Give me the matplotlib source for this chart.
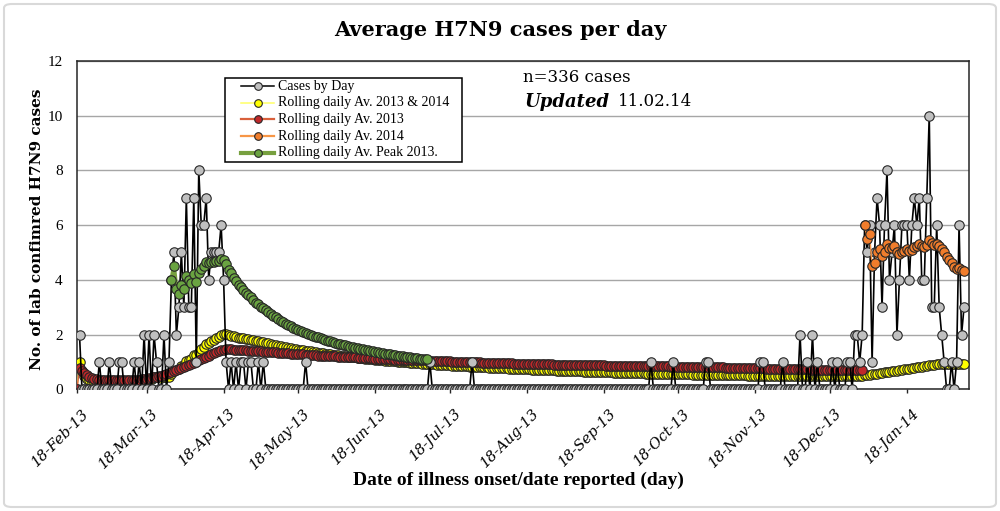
import numpy as np
import pandas as pd
import matplotlib
matplotlib.use("Agg")
import matplotlib.pyplot as plt
import matplotlib.dates as mdates
import matplotlib.transforms as mtransforms
from matplotlib.lines import Line2D
from matplotlib.patches import Rectangle, FancyBboxPatch

# Tage ab 18-Feb-13 bis 10-Feb-14
days = pd.date_range("2013-02-18", "2014-02-10", freq="D")

# Fälle pro Tag (aus dem Bild gelesen), 10 Tage pro Zeile
cases_by_day = [
    0, 2, 0, 0, 0, 0, 0, 0, 0, 1,
    0, 0, 0, 1, 0, 0, 0, 1, 1, 0,
    0, 0, 0, 1, 0, 1, 0, 2, 0, 2,
    0, 2, 1, 0, 0, 2, 0, 1, 4, 5,
    2, 3, 5, 3, 7, 3, 3, 7, 1, 8,
    6, 6, 7, 4, 5, 5, 5, 5, 6, 4,
    1, 0, 1, 0, 1, 0, 1, 1, 0, 1,
    1, 0, 0, 1, 0, 1, 0, 0, 0, 0,
    0, 0, 0, 0, 0, 0, 0, 0, 0, 0,
    0, 0, 1, 0, 0, 0, 0, 0, 0, 0,
    0, 0, 0, 0, 0, 0, 0, 0, 0, 0,
    0, 0, 0, 0, 0, 0, 0, 0, 0, 0,
    0, 0, 0, 0, 0, 0, 0, 0, 0, 0,
    0, 0, 0, 0, 0, 0, 0, 0, 0, 0,
    0, 0, 1, 0, 0, 0, 0, 0, 0, 0,
    0, 0, 0, 0, 0, 0, 0, 0, 0, 1,
    0, 0, 0, 0, 0, 0, 0, 0, 0, 0,
    0, 0, 0, 0, 0, 0, 0, 0, 0, 0,
    0, 0, 0, 0, 0, 0, 0, 0, 0, 0,
    0, 0, 0, 0, 0, 0, 0, 0, 0, 0,
    0, 0, 0, 0, 0, 0, 0, 0, 0, 0,
    0, 0, 0, 0, 0, 0, 0, 0, 0, 0,
    0, 0, 0, 0, 0, 0, 0, 0, 0, 0,
    0, 1, 0, 0, 0, 0, 0, 0, 0, 0,
    1, 0, 0, 0, 0, 0, 0, 0, 0, 0,
    0, 0, 0, 1, 1, 0, 0, 0, 0, 0,
    0, 0, 0, 0, 0, 0, 0, 0, 0, 0,
    0, 0, 0, 0, 0, 1, 1, 0, 0, 0,
    0, 0, 0, 0, 1, 0, 0, 0, 0, 0,
    0, 2, 0, 0, 1, 0, 2, 0, 1, 0,
    0, 0, 0, 0, 1, 0, 1, 0, 0, 0,
    1, 1, 0, 2, 2, 1, 2, 6, 5, 6,
    1, 5, 7, 6, 3, 6, 8, 4, 5, 6,
    2, 4, 6, 6, 6, 4, 6, 7, 6, 7,
    4, 4, 7, 10, 3, 3, 6, 3, 2, 1,
    0, 0, 1, 0, 1, 6, 2, 3,
]

# Rolling daily Av. 2013 (18-Feb-13 bis 31-Dec-13)
rolling_2013 = [
    0.00, 0.79, 0.68, 0.60, 0.52, 0.47, 0.43, 0.40, 0.37, 0.36,
    0.35, 0.34, 0.34, 0.33, 0.33, 0.33, 0.33, 0.33, 0.33, 0.33,
    0.33, 0.34, 0.34, 0.35, 0.35, 0.36, 0.37, 0.38, 0.39, 0.41,
    0.43, 0.45, 0.47, 0.49, 0.51, 0.54, 0.57, 0.60, 0.63, 0.67,
    0.71, 0.74, 0.78, 0.82, 0.86, 0.90, 0.94, 0.98, 1.02, 1.06,
    1.10, 1.15, 1.20, 1.24, 1.28, 1.32, 1.36, 1.40, 1.43, 1.45,
    1.46, 1.46, 1.46, 1.45, 1.45, 1.44, 1.44, 1.43, 1.43, 1.42,
    1.41, 1.41, 1.40, 1.40, 1.39, 1.38, 1.38, 1.37, 1.36, 1.36,
    1.35, 1.34, 1.34, 1.33, 1.32, 1.32, 1.31, 1.30, 1.30, 1.29,
    1.28, 1.28, 1.27, 1.27, 1.26, 1.25, 1.25, 1.24, 1.24, 1.23,
    1.23, 1.22, 1.22, 1.21, 1.21, 1.20, 1.20, 1.19, 1.19, 1.18,
    1.18, 1.17, 1.17, 1.16, 1.16, 1.15, 1.15, 1.14, 1.14, 1.13,
    1.13, 1.12, 1.12, 1.11, 1.11, 1.10, 1.10, 1.10, 1.09, 1.09,
    1.09, 1.08, 1.08, 1.08, 1.07, 1.07, 1.07, 1.07, 1.07, 1.06,
    1.06, 1.06, 1.05, 1.05, 1.05, 1.04, 1.04, 1.04, 1.03, 1.03,
    1.03, 1.02, 1.02, 1.02, 1.01, 1.01, 1.01, 1.00, 1.00, 1.00,
    0.99, 0.99, 0.99, 0.98, 0.98, 0.98, 0.97, 0.97, 0.97, 0.96,
    0.96, 0.96, 0.95, 0.95, 0.95, 0.95, 0.94, 0.94, 0.94, 0.94,
    0.93, 0.93, 0.93, 0.93, 0.93, 0.92, 0.92, 0.92, 0.92, 0.92,
    0.92, 0.92, 0.91, 0.91, 0.91, 0.91, 0.91, 0.90, 0.90, 0.90,
    0.90, 0.90, 0.89, 0.89, 0.89, 0.89, 0.89, 0.88, 0.88, 0.88,
    0.88, 0.88, 0.88, 0.87, 0.87, 0.87, 0.87, 0.87, 0.86, 0.86,
    0.86, 0.86, 0.86, 0.86, 0.85, 0.85, 0.85, 0.85, 0.85, 0.85,
    0.85, 0.84, 0.84, 0.84, 0.84, 0.84, 0.84, 0.84, 0.84, 0.83,
    0.83, 0.83, 0.83, 0.83, 0.83, 0.83, 0.83, 0.83, 0.83, 0.82,
    0.82, 0.82, 0.82, 0.82, 0.82, 0.82, 0.81, 0.81, 0.81, 0.81,
    0.81, 0.80, 0.80, 0.80, 0.80, 0.79, 0.79, 0.79, 0.79, 0.78,
    0.78, 0.78, 0.78, 0.77, 0.77, 0.77, 0.77, 0.76, 0.76, 0.76,
    0.76, 0.75, 0.75, 0.75, 0.75, 0.74, 0.74, 0.74, 0.74, 0.74,
    0.73, 0.73, 0.73, 0.73, 0.73, 0.73, 0.72, 0.72, 0.72, 0.72,
    0.72, 0.72, 0.72, 0.72, 0.71, 0.71, 0.71, 0.71, 0.71, 0.71,
    0.71, 0.71, 0.71, 0.71, 0.71, 0.71, 0.71,
]

# Zeitfenster der Mittelwerte
peak_start, peak_end = "2013-03-28", "2013-07-09"
start_2014 = "2014-01-01"

cases = pd.Series(cases_by_day, index=days, dtype=float)

# Rolling daily Av. = kumulierter Mittelwert im jeweiligen Zeitraum
avg_all = cases.expanding().mean()
peak = cases[peak_start:peak_end]
avg_peak = peak.expanding().mean()
c14 = cases[start_2014:]
avg_2014 = c14.expanding().mean()
avg_2013 = pd.Series(rolling_2013, index=days[:len(rolling_2013)])

# Plot
fig = plt.figure(figsize=(10, 5.11), dpi=100)
ax = fig.add_axes([0.0765, 0.2378, 0.8925, 0.6434])

mk = dict(marker="o", markersize=6.8, markeredgecolor="#262626", markeredgewidth=0.8)

ax.plot(avg_all.index, avg_all.values, color="#ffff66", lw=1, markerfacecolor="#ffff00", zorder=3, **mk)
ax.plot(avg_2013.index, avg_2013.values, color="#d9603b", lw=1, markerfacecolor="#c0282a", zorder=4, **mk)
ax.plot(cases.index[1:], cases.values[1:], color="black", lw=1.2, markerfacecolor="#c0c0c0", zorder=5, **mk)
ax.plot(avg_2014.index, avg_2014.values, color="#f79646", lw=1, markerfacecolor="#f07d2c", zorder=6, **mk)
ax.plot(avg_peak.index, avg_peak.values, color="#77a03f", lw=3, markerfacecolor="#6aa341", zorder=7, **mk)

ax.set_ylim(0, 12)
ax.set_yticks(np.arange(0, 13, 2))
ax.set_xlim(days[0] - pd.Timedelta(hours=5), days[0] + pd.Timedelta(days=359))
ax.set_xticks(pd.date_range("2013-02-01", periods=12, freq="MS") + pd.Timedelta(days=17))
ax.xaxis.set_major_formatter(mdates.DateFormatter("%d-%b-%y"))

ax.grid(axis="y", color="#a6a6a6", lw=1)
ax.set_axisbelow(True)
for s in ax.spines.values():
    s.set_color("#262626")
    s.set_linewidth(1.1)

ax.tick_params(axis="y", length=0, pad=10, labelsize=11)
ax.tick_params(axis="x", length=3, width=1, direction="out", pad=9, color="#262626")
for lbl in ax.get_yticklabels():
    lbl.set_fontfamily("Liberation Serif")
offset = mtransforms.ScaledTranslation(5 / 100, 0, fig.dpi_scale_trans)
for lbl in ax.get_xticklabels():
    lbl.set_fontfamily("DejaVu Serif")
    lbl.set_fontstyle("italic")
    lbl.set_fontsize(10.5)
    lbl.set_rotation(45)
    lbl.set_ha("right")
    lbl.set_va("top")
    lbl.set_rotation_mode("anchor")
    lbl.set_transform(lbl.get_transform() + offset)


def fx(px):
    return px / 1000


def fy(py):
    return 1 - py / 511


# Titel und Achsenbeschriftung
fig.text(fx(500), fy(30), "Average H7N9 cases per day", ha="center", va="center",
         fontsize=15, fontweight="bold", family="DejaVu Serif")
fig.text(fx(37), fy(229), "No. of lab confimred H7N9 cases", ha="center", va="center",
         rotation=90, fontsize=11, fontweight="bold", family="DejaVu Serif")
fig.text(fx(518), fy(480), "Date of illness onset/date reported (day)", ha="center", va="center",
         fontsize=14, fontweight="bold", family="Liberation Serif")

fig.text(fx(523), fy(78), "n=336 cases", ha="left", va="center", fontsize=12, family="DejaVu Serif")
fig.text(fx(525), fy(102), "Updated", ha="left", va="center", fontsize=13,
         fontweight="bold", fontstyle="italic", family="DejaVu Serif")
fig.text(fx(618), fy(102), "11.02.14", ha="left", va="center", fontsize=12, family="DejaVu Serif")

# Legende
fig.add_artist(Rectangle((fx(225), fy(162)), fx(462) - fx(225), fy(78) - fy(162),
                         transform=fig.transFigure, facecolor="white", edgecolor="black", lw=1.1, zorder=10))
legend_items = [
    ("Cases by Day", "black", "#c0c0c0", 1.1),
    ("Rolling daily Av. 2013 & 2014", "#ffff66", "#ffff00", 1.1),
    ("Rolling daily Av. 2013", "#d9603b", "#c0282a", 1.6),
    ("Rolling daily Av. 2014", "#f79646", "#f07d2c", 1.6),
    ("Rolling daily Av. Peak 2013.", "#77a03f", "#6aa341", 3),
]
for i, (label, lc, fc, lw) in enumerate(legend_items):
    y = fy(86.3 + i * 16.6)
    fig.add_artist(Line2D([fx(241), fx(274)], [y, y], transform=fig.transFigure, color=lc, lw=lw, zorder=11))
    fig.add_artist(Line2D([fx(257.5)], [y], transform=fig.transFigure, marker="o", markersize=5.5,
                          markerfacecolor=fc, markeredgecolor="#262626", markeredgewidth=0.8, zorder=12))
    fig.text(fx(278), y, label, ha="left", va="center", fontsize=10, family="Liberation Serif", zorder=12)

# Rahmen um die Grafik
fig.add_artist(FancyBboxPatch((fx(4), fy(507)), fx(992), fy(4) - fy(507), boxstyle="round,pad=0,rounding_size=0.008",
                              transform=fig.transFigure, facecolor="none", edgecolor="#d9d9d9", lw=1.5))

fig.savefig("out.png", dpi=100)
